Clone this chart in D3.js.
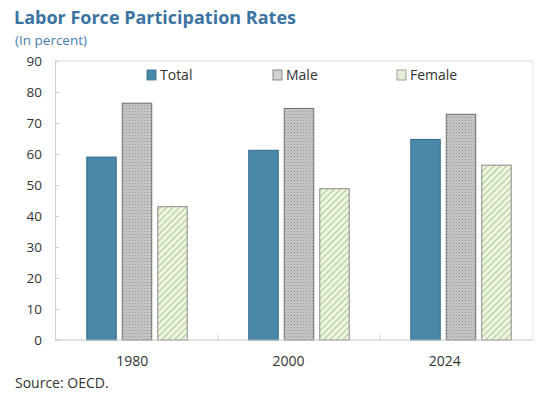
<!DOCTYPE html>
<html>
<head>
<meta charset="utf-8">
<script src="https://cdn.jsdelivr.net/npm/d3@7"></script>
<style>
  html, body { margin: 0; padding: 0; background: #fff; }
  svg { display: block; font-family: "Open Sans", "Noto Sans", sans-serif; }
</style>
</head>
<body>
<svg id="chart" width="542" height="394"></svg>
<script>
// Labor force participation rates, in percent
const years = ["1980", "2000", "2024"];
const seriesNames = ["Total", "Male", "Female"];
const totalValues = [59.0, 61.2, 64.7];
const maleValues = [76.4, 74.7, 72.8];
const femaleValues = [43.0, 48.8, 56.4];
const yTicks = [0, 10, 20, 30, 40, 50, 60, 70, 80, 90];

const seriesValues = { Total: totalValues, Male: maleValues, Female: femaleValues };
const rows = years.map((y, i) => ({ year: y, values: seriesNames.map(s => ({ key: s, value: seriesValues[s][i] })) }));

const svg = d3.select("#chart");
const defs = svg.append("defs");

// Dotted gray fill for the male bars
const dots = defs.append("pattern").attr("id", "dots").attr("patternUnits", "userSpaceOnUse")
  .attr("width", 3).attr("height", 3);
dots.append("rect").attr("width", 3).attr("height", 3).attr("fill", "#c9c9c9");
dots.append("rect").attr("x", 0).attr("y", 0).attr("width", 1).attr("height", 1).attr("fill", "#8a8a8a");
dots.append("rect").attr("x", 1.5).attr("y", 1.5).attr("width", 1).attr("height", 1).attr("fill", "#a4a4a4");

// Green diagonal hatch for the female bars
const hatch = defs.append("pattern").attr("id", "hatch").attr("patternUnits", "userSpaceOnUse")
  .attr("width", 4.5).attr("height", 4.5).attr("patternTransform", "rotate(45)");
hatch.append("rect").attr("width", 4.5).attr("height", 4.5).attr("fill", "#eff6e4");
hatch.append("rect").attr("x", 0).attr("y", 0).attr("width", 1.2).attr("height", 4.5).attr("fill", "#afcf94");

const fills = { Total: "#4a88a9", Male: "url(#dots)", Female: "url(#hatch)" };
const strokes = { Total: "#35688a", Male: "#6e6e6e", Female: "#8a8a8a" };
const swatchFills = { Total: "#4a88a9", Male: "#d4d4d4", Female: "#e4efd6" };

const plot = { left: 55, right: 533, top: 61, bottom: 340 };

const y = d3.scaleLinear().domain([0, 90]).range([plot.bottom, plot.top]);
const x0 = d3.scaleBand().domain(years).range([56, 542]).paddingInner(0.38).paddingOuter(0.19);
const x1 = d3.scaleBand().domain(seriesNames).range([0, x0.bandwidth()]).paddingInner(0.17);
const xLabel = d3.scaleBand().domain(years).range([54, 523]);

// Frame
svg.append("line").attr("x1", plot.left).attr("x2", plot.right).attr("y1", plot.top).attr("y2", plot.top)
  .attr("stroke", "#dcdcdc");
svg.append("line").attr("x1", plot.right).attr("x2", plot.right).attr("y1", plot.top).attr("y2", plot.bottom)
  .attr("stroke", "#e4e4e4");

// Y axis
const yAxis = d3.axisLeft(y).tickValues(yTicks).tickSize(-4).tickPadding(13);
const gy = svg.append("g").attr("transform", `translate(${plot.left},0)`).call(yAxis);
gy.select(".domain").attr("stroke", "#cfcfcf");
gy.selectAll(".tick line").attr("stroke", "#cfcfcf");
gy.selectAll(".tick text").attr("fill", "#333").attr("font-size", 13.5).attr("font-family", "Open Sans, sans-serif");

// Bars
const groups = svg.append("g").selectAll("g").data(rows).join("g")
  .attr("transform", d => `translate(${x0(d.year)},0)`);
groups.selectAll("rect").data(d => d.values).join("rect")
  .attr("x", d => x1(d.key))
  .attr("y", d => y(d.value))
  .attr("width", x1.bandwidth())
  .attr("height", d => y(0) - y(d.value))
  .attr("fill", d => fills[d.key])
  .attr("stroke", d => strokes[d.key])
  .attr("stroke-width", 1);

// Category separators and baseline
const step = x0.step();
const boundaries = years.slice(1).map(yr => x0(yr) - step * x0.paddingInner() / 2);
svg.append("g").selectAll("line").data(boundaries).join("line")
  .attr("x1", d => d).attr("x2", d => d).attr("y1", plot.bottom - 5).attr("y2", plot.bottom)
  .attr("stroke", "#cfcfcf");
svg.append("line").attr("x1", plot.left).attr("x2", plot.right).attr("y1", plot.bottom).attr("y2", plot.bottom)
  .attr("stroke", "#c4c4c4");

// Category labels
const xAxis = d3.axisBottom(xLabel).tickSize(0).tickPadding(16);
const gx = svg.append("g").attr("transform", `translate(0,${plot.bottom})`).call(xAxis);
gx.select(".domain").remove();
gx.selectAll(".tick text").attr("fill", "#333").attr("font-size", 14).attr("font-family", "Open Sans, sans-serif");

// Legend
const legendX = { Total: 147, Male: 273, Female: 397 };
const legend = svg.append("g").selectAll("g").data(seriesNames).join("g")
  .attr("transform", d => `translate(${legendX[d]},70)`);
legend.append("rect").attr("width", 9).attr("height", 10)
  .attr("fill", d => swatchFills[d]).attr("stroke", d => strokes[d]).attr("stroke-width", 0.8);
legend.append("text").attr("x", 13).attr("y", 5).attr("dy", "0.35em")
  .attr("font-size", 14).attr("fill", "#333").text(d => d);

// Titles and source
svg.append("text").attr("x", 14).attr("y", 24).attr("font-size", 18).attr("font-weight", 700)
  .attr("fill", "#3b73a3").text("Labor Force Participation Rates");
svg.append("text").attr("x", 15).attr("y", 45).attr("font-size", 13.5)
  .attr("fill", "#4b80ad").text("(In percent)");
svg.append("text").attr("x", 15).attr("y", 388).attr("font-size", 14)
  .attr("fill", "#333").text("Source: OECD.");
</script>
</body>
</html>
